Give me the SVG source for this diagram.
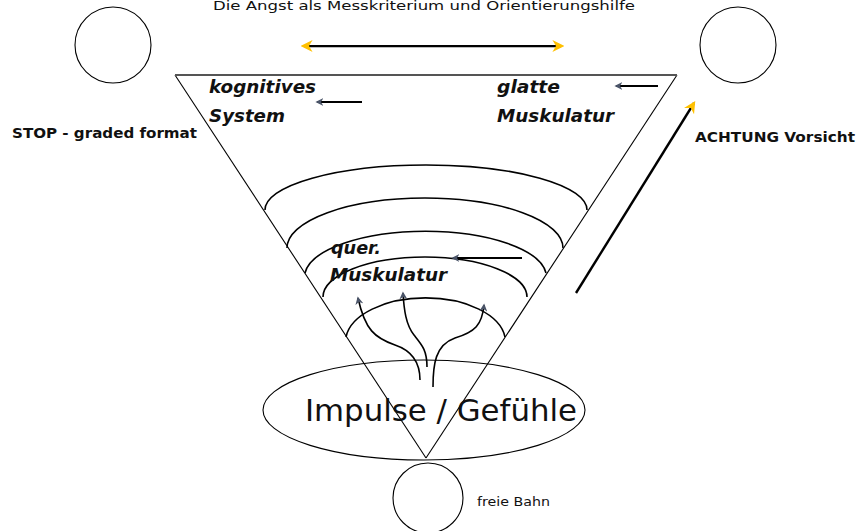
<svg xmlns="http://www.w3.org/2000/svg" width="861" height="531" viewBox="0 0 861 531">
  <style>
    .ln { fill: none; stroke: #000; stroke-width: 1.1; }
    .arc { fill: none; stroke: #000; stroke-width: 1.6; }
    .lbl { font-family: "DejaVu Sans", "Liberation Sans", sans-serif; font-weight: bold; font-style: italic; font-size: 18px; fill: #111; }
    .bold { font-family: "DejaVu Sans", "Liberation Sans", sans-serif; font-weight: bold; font-size: 14px; fill: #111; }
    .plain { font-family: "DejaVu Sans", "Liberation Sans", sans-serif; fill: #111; }
    .ptr { fill: none; stroke: #000; stroke-width: 2.2; }
    .flow { fill: none; stroke: #000; stroke-width: 1.6; }
  </style>
  <defs>
    <marker id="orange" viewBox="0 0 10 10" refX="8" refY="5" markerWidth="12" markerHeight="12" orient="auto-start-reverse" markerUnits="userSpaceOnUse">
      <path d="M0,0 L10,5 L0,10 L3,5 Z" fill="#FFC000"/>
    </marker>
    <marker id="slate" viewBox="0 0 10 10" refX="8" refY="5" markerWidth="8" markerHeight="8" orient="auto" markerUnits="userSpaceOnUse">
      <path d="M0,0 L10,5 L0,10 L3,5 Z" fill="#4a5468"/>
    </marker>
  </defs>

  <rect width="861" height="531" fill="#fff"/>

  <text class="plain" x="213" y="10" font-size="12" textLength="422" lengthAdjust="spacingAndGlyphs">Die Angst als Messkriterium und Orientierungshilfe</text>

  <g id="circle-stop">
    <circle class="ln" cx="113" cy="45" r="38"/>
    <text class="bold" x="12" y="138" textLength="185" lengthAdjust="spacingAndGlyphs">STOP - graded format</text>
  </g>
  <g id="circle-achtung">
    <circle class="ln" cx="738" cy="45" r="38"/>
    <text class="bold" x="695" y="142" textLength="160" lengthAdjust="spacingAndGlyphs">ACHTUNG Vorsicht</text>
  </g>
  <g id="circle-frei">
    <circle class="ln" cx="428" cy="498" r="35"/>
    <text class="plain" x="477" y="506" font-size="13" textLength="73" lengthAdjust="spacingAndGlyphs">freie Bahn</text>
  </g>

  <g id="funnel">
    <path d="M426,458 L175,75" class="ln"/>
    <path d="M426,458 L677,75" class="ln"/>
    <line x1="175" y1="75" x2="677" y2="75" stroke="#555" stroke-width="1.8"/>
    <path class="arc" d="M265,210 A161,45 0 0 1 587,210"/>
    <path class="arc" d="M287,248 A138,50 0 0 1 563,248"/>
    <path class="arc" d="M305,273 A121,46 0 0 1 546,273"/>
    <path class="arc" d="M323,297 A102,40 0 0 1 527,297"/>
    <path class="arc" d="M346,337 A80,44 0 0 1 505,337"/>
  </g>

  <g id="label-kognitiv">
    <text class="lbl" x="209" y="93" textLength="107" lengthAdjust="spacingAndGlyphs">kognitives</text>
    <text class="lbl" x="209" y="122" textLength="76" lengthAdjust="spacingAndGlyphs">System</text>
  </g>
  <g id="label-glatt">
    <text class="lbl" x="497" y="93" textLength="63" lengthAdjust="spacingAndGlyphs">glatte</text>
    <text class="lbl" x="497" y="122" textLength="117" lengthAdjust="spacingAndGlyphs">Muskulatur</text>
  </g>
  <g id="label-quer">
    <text class="lbl" x="331" y="254" textLength="50" lengthAdjust="spacingAndGlyphs">quer.</text>
    <text class="lbl" x="330" y="281" textLength="117" lengthAdjust="spacingAndGlyphs">Muskulatur</text>
  </g>

  <g id="impulse">
    <ellipse class="ln" cx="424" cy="410" rx="161" ry="50"/>
    <text class="plain" x="305" y="421" font-size="30" textLength="272" lengthAdjust="spacingAndGlyphs">Impulse / Gefühle</text>
  </g>

  <g id="connectors">
    <line x1="304" y1="47" x2="561" y2="47" stroke="#bbb" stroke-width="2.2"/>
    <line x1="303" y1="46" x2="562" y2="46" stroke="#000" stroke-width="2" marker-start="url(#orange)" marker-end="url(#orange)"/>
    <line x1="576" y1="293" x2="694" y2="103" stroke="#000" stroke-width="2.4" marker-end="url(#orange)"/>
    <line class="ptr" x1="362" y1="102" x2="317" y2="102" marker-end="url(#slate)"/>
    <line class="ptr" x1="658" y1="86" x2="616" y2="86" marker-end="url(#slate)"/>
    <line class="ptr" x1="522" y1="258" x2="453" y2="258" marker-end="url(#slate)"/>
    <path class="flow" d="M420,380 C420,360 410,350 395,345 C375,338 365,330 358,298" marker-end="url(#slate)"/>
    <path class="flow" d="M427,367 C427,350 422,345 414,335 C406,325 404,310 403,293" marker-end="url(#slate)"/>
    <path class="flow" d="M433,387 C433,365 435,345 455,338 C475,332 482,325 484,305" marker-end="url(#slate)"/>
  </g>
</svg>
